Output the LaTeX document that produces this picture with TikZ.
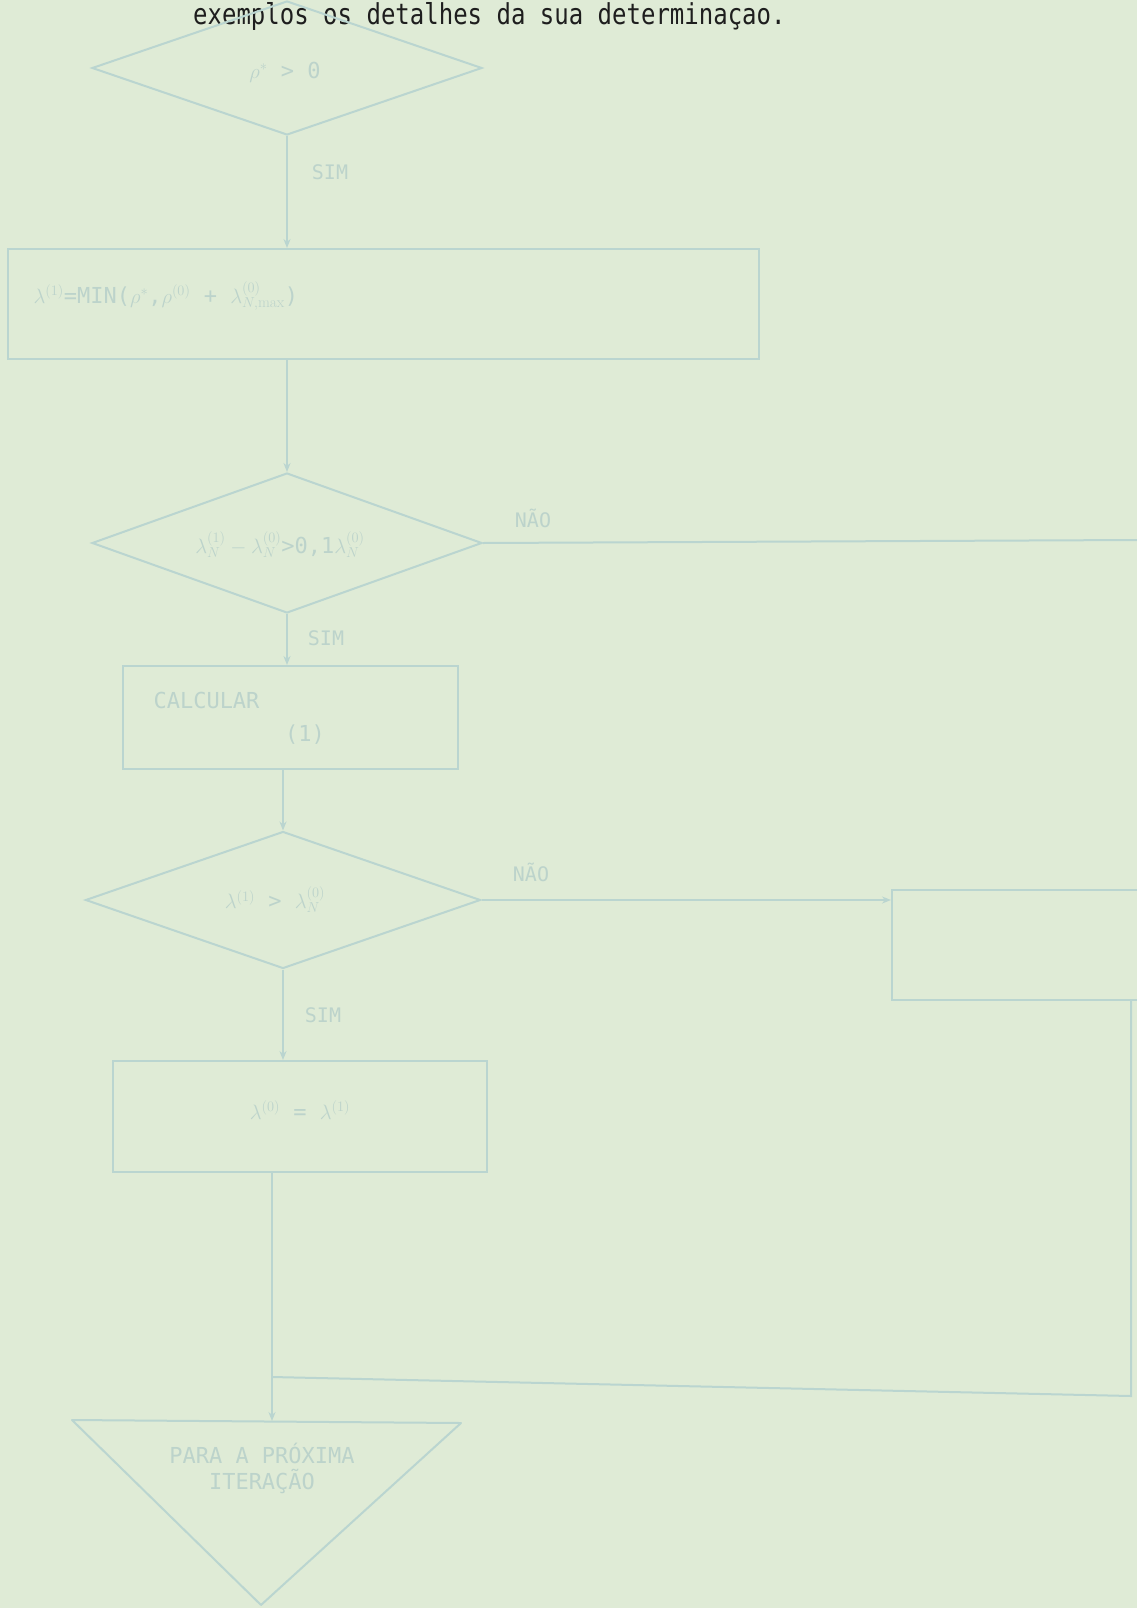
\documentclass[tikz,border=0pt]{standalone}
\usepackage{fontspec}
\setmonofont{DejaVu Sans Mono}
\usetikzlibrary{shapes.geometric,arrows.meta,calc}
\definecolor{bg}{HTML}{DFEBD6}
\definecolor{lc}{HTML}{BAD5D0}
\definecolor{tc}{HTML}{BCD3CB}
\definecolor{ink}{HTML}{1E1E1E}
\begin{document}
\begin{tikzpicture}[x=1pt,y=-1pt,
  ln/.style={draw=lc,line width=2pt},
  arr/.style={ln,-{Stealth[length=9pt,width=7pt]}},
  dia/.style={diamond,ln,inner sep=0pt,aspect=2.8},
  box/.style={rectangle,ln,inner sep=0pt},
  lbl/.style={text=tc,font=\ttfamily\fontsize{20}{22}\selectfont},
  intext/.style={text=tc,font=\ttfamily\fontsize{22}{26}\selectfont}]
\useasboundingbox (0,0) rectangle (1137,1608);
\fill[bg] (0,0) rectangle (1137,1608);
% top line of text
\node[anchor=north west,inner sep=0pt,text=ink,font=\ttfamily\fontsize{24}{26}\selectfont] (top) at (193,2) {\scalebox{1}[1.2]{exemplos os detalhes da sua determinaçao.}};
% shapes
\node[dia,minimum width=390pt,minimum height=134pt] (d1) at (287,68) {};
\node[intext] (d1t) at (285,72) {$\rho^*$ > 0};
\node[box,minimum width=751pt,minimum height=110pt] (r1) at (383.5,304) {};
\node[intext,anchor=west] (r1t) at (30,296) {$\lambda^{(1)}$=MIN($\rho^*$,$\rho^{(0)}$ + $\lambda^{(0)}_{N,\mathrm{max}}$)};
\node[dia,minimum width=390pt,minimum height=140pt] (d2) at (287,543) {};
\node[intext] (d2t) at (280,545) {$\lambda^{(1)}_N-\lambda^{(0)}_N$>0,1$\lambda^{(0)}_N$};
\node[box,minimum width=335pt,minimum height=103pt] (r2) at (290.5,717.5) {};
\node[intext,anchor=west] (r2t) at (150,700) {CALCULAR};
\node[intext] (r2s) at (305,735) {(1)};
\node[dia,minimum width=395pt,minimum height=137pt] (d3) at (283,900) {};
\node[intext] (d3t) at (275,900) {$\lambda^{(1)}$ > $\lambda^{(0)}_N$};
\node[box,minimum width=300pt,minimum height=110pt] (r3) at (1042,945) {};
\node[box,minimum width=374pt,minimum height=111pt] (r4) at (300,1116.5) {};
\node[intext] (r4t) at (300,1110) {$\lambda^{(0)}$ = $\lambda^{(1)}$};
% triangle
\coordinate (tl) at (72,1420);
\coordinate (tr) at (461,1423);
\coordinate (tb) at (261,1605);
\coordinate (tritop) at (272,1421);
\draw[ln,line join=round] (tl) -- (tr) -- (tb) -- cycle;
\node[intext,align=center] (trit) at (262,1468) {PARA A PRÓXIMA\\ITERAÇÃO};
% labels
\node[lbl] (s1) at (330,172) {SIM};
\node[lbl] (s2) at (326,638) {SIM};
\node[lbl] (s3) at (323,1015) {SIM};
\node[lbl] (n2) at (533,518) {NÃO};
\node[lbl] (n3) at (531,872) {NÃO};
% connectors
\draw[arr] (d1.south) -- (d1.south |- r1.north);
\draw[arr] (d2.north |- r1.south) -- (d2.north);
\draw[arr] (d2.south) -- (d2.south |- r2.north);
\draw[arr] (d3.north |- r2.south) -- (d3.north);
\draw[arr] (d3.south) -- (d3.south |- r4.north);
\coordinate (e2) at (1137,540);
\draw[ln] (d2.east) -- (e2);
\draw[arr] (d3.east) -- (d3.east -| r3.west);
\path (r3.south) ++(89,0) coordinate (r3out);
\coordinate (corner) at (1131,1396);
\coordinate (join) at (272,1377);
\draw[ln] (r3out) -- (corner) -- (join);
\draw[ln] (join |- r4.south) -- (join);
\draw[arr] (join) -- (tritop);
\end{tikzpicture}
\end{document}
